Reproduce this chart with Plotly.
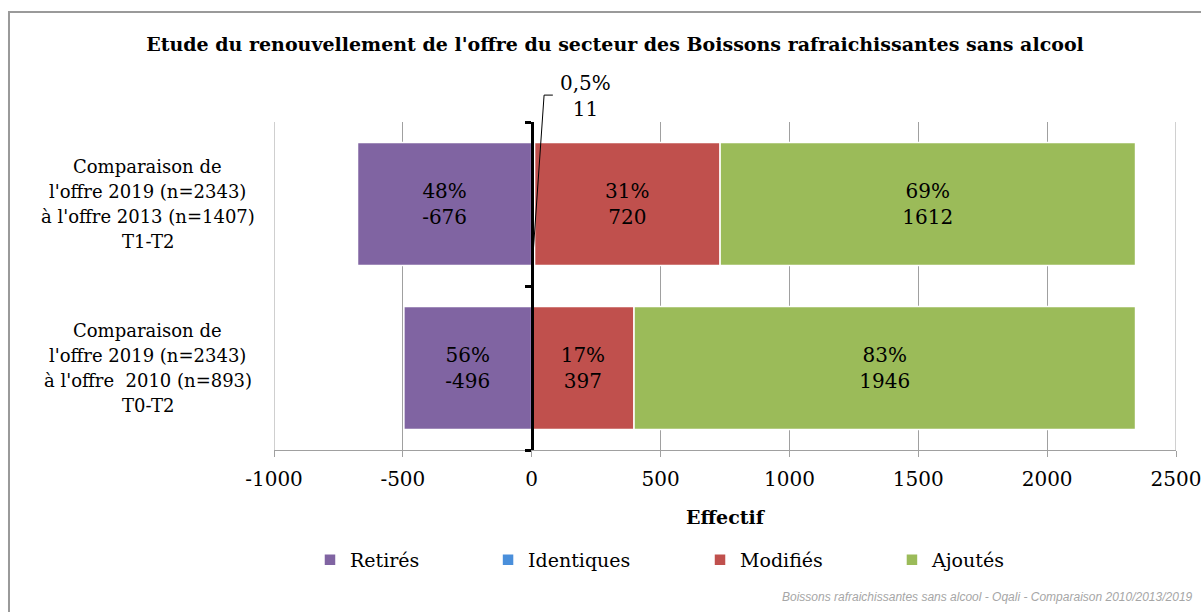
import plotly.graph_objects as go

categories = ["T1-T2", "T0-T2"]
category_label_lines = [
    ["Comparaison de", "l'offre 2019 (n=2343)", "à l'offre 2013 (n=1407)", "T1-T2"],
    ["Comparaison de", "l'offre 2019 (n=2343)", "à l'offre  2010 (n=893)", "T0-T2"],
]
series_names = ["Retirés", "Identiques", "Modifiés", "Ajoutés"]
retires = [-676, -496]
identiques = [11, 0]
modifies = [720, 397]
ajoutes = [1612, 1946]
retires_pct = ["48%", "56%"]
identiques_pct = ["0,5%", ""]
modifies_pct = ["31%", "17%"]
ajoutes_pct = ["69%", "83%"]
x_ticks = [-1000, -500, 0, 500, 1000, 1500, 2000, 2500]

colors = {"Retirés": "#8064A2", "Identiques": "#4A8FDB", "Modifiés": "#C0504D", "Ajoutés": "#9BBB59"}
SERIF = "DejaVu Serif"
GRID = "#a0a0a0"

W, H = 1201, 612
ML, MR, MT, MB = 274, 25, 122, 162

fig = go.Figure()
data = [
    ("Retirés", retires, retires_pct, "inside", "legend"),
    ("Identiques", identiques, identiques_pct, "none", "legend2"),
    ("Modifiés", modifies, modifies_pct, "inside", "legend3"),
    ("Ajoutés", ajoutes, ajoutes_pct, "inside", "legend4"),
]
for name, vals, pct, pos, leg in data:
    fig.add_trace(go.Bar(
        name=name, y=categories, x=vals, orientation="h",
        marker=dict(color=colors[name], line=dict(color="white", width=1.5)),
        text=[f"{p}<br>{v}" for p, v in zip(pct, vals)],
        textposition=pos, insidetextanchor="middle",
        textfont=dict(family=SERIF, size=20, color="black"),
        hoverinfo="skip", legend=leg,
    ))

# Gridlines at the two ends of the x range (plotly skips them at the edges)
for xv in (x_ticks[0], x_ticks[-1]):
    fig.add_shape(type="line", xref="x", yref="paper", x0=xv, x1=xv, y0=0, y1=1,
                  line=dict(color=GRID, width=1), layer="below")

# Category labels (centered, one annotation per line)
line_offsets = [37.5, 12.5, -12.5, -37.5]
for cat, lines in zip(categories, category_label_lines):
    for line, off in zip(lines, line_offsets):
        fig.add_annotation(x=-0.1397, xref="paper", y=cat, yref="y", yshift=off, text=line,
                           showarrow=False, xanchor="center", yanchor="middle",
                           font=dict(family=SERIF, size=18, color="black"))

# Identiques label with leader line
fig.add_annotation(x=207, xref="x", y=1.079, yref="paper",
                   text=f"{identiques_pct[0]}<br>{identiques[0]}", showarrow=False,
                   xanchor="center", yanchor="middle", align="center",
                   font=dict(family=SERIF, size=20, color="black"))
fig.add_shape(type="path", xref="x", yref="paper",
              path=f"M {identiques[0]/2},0.6 L 48,1.082 L 82,1.082",
              line=dict(color="black", width=1))

# Outer border
fig.add_shape(type="rect", xref="paper", yref="paper",
              x0=-0.2938, x1=1.05, y0=-0.6, y1=1.3354,
              line=dict(color="#9a9a9a", width=2))

# Footer
fig.add_annotation(x=1.0211, xref="paper", y=-0.448, yref="paper",
                   text="<i>Boissons rafraichissantes sans alcool - Oqali - Comparaison 2010/2013/2019</i>",
                   showarrow=False, xanchor="right", yanchor="middle",
                   font=dict(family="Liberation Sans", size=12, color="#a6a6a6"))

leg_common = dict(orientation="h", xanchor="left", y=-0.335, yanchor="middle",
                  font=dict(family=SERIF, size=19, color="black"), itemwidth=30,
                  bgcolor="rgba(0,0,0,0)")
fig.update_layout(
    width=W, height=H,
    margin=dict(l=ML, r=MR, t=MT, b=MB, autoexpand=False),
    paper_bgcolor="white", plot_bgcolor="white",
    barmode="relative", bargap=0.25,
    title=dict(text="<b>Etude du renouvellement de l'offre du secteur des Boissons rafraichissantes sans alcool</b>",
               x=615 / W, xanchor="center", y=1 - 44 / H, yanchor="middle",
               font=dict(family=SERIF, size=19, color="black")),
    xaxis=dict(range=[-1000, 2500], tickvals=x_ticks, ticktext=[str(v) for v in x_ticks],
               showgrid=True, gridcolor=GRID, gridwidth=1, zeroline=False,
               showline=True, linecolor=GRID, linewidth=1,
               ticks="outside", ticklen=6, tickcolor=GRID, ticklabeloverflow="allow",
               tickfont=dict(family=SERIF, size=20, color="black"), ticklabelstandoff=5,
               title=dict(text="<b>Effectif</b>", standoff=20,
                          font=dict(family=SERIF, size=19, color="black"))),
    yaxis=dict(categoryorder="array", categoryarray=categories[::-1],
               anchor="free", position=1000 / 3500,
               showline=True, linecolor="black", linewidth=3,
               ticks="outside", tickson="boundaries", ticklen=6, tickwidth=3, tickcolor="black",
               showticklabels=False, showgrid=False, zeroline=False),
    legend=dict(x=0.0399, **leg_common),
    legend2=dict(x=0.2373, **leg_common),
    legend3=dict(x=0.4723, **leg_common),
    legend4=dict(x=0.6851, **leg_common),
    showlegend=True,
)

fig.write_html(
    "out.html",
    config={"displayModeBar": False},
    post_script="document.body.style.margin='0';document.body.style.overflow='hidden';",
)
